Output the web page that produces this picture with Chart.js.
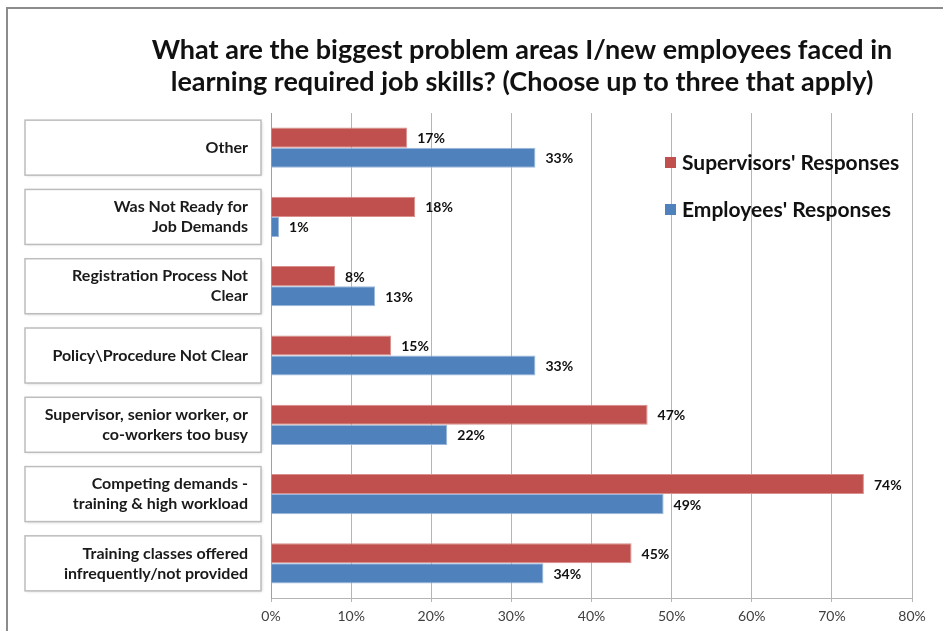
<!DOCTYPE html>
<html>
<head>
<meta charset="utf-8">
<title>Problem areas in learning job skills</title>
<script src="https://cdn.jsdelivr.net/npm/chart.js@4.4.1/dist/chart.umd.min.js"></script>
<style>
  body { margin: 0; background: #fff; }
  #frame { position: absolute; left: 6px; top: 7px; width: 1000px; height: 700px;
           border-left: 2px solid #8c8c8c; border-top: 2px solid #8c8c8c; }
  #chart { position: absolute; left: 0; top: 0; }
</style>
</head>
<body>
<div id="frame"></div>
<canvas id="chart" width="943" height="631"></canvas>
<script>
const titleLines = [
    "What are the biggest problem areas I/new employees faced in",
    "learning required job skills? (Choose up to three that apply)"
];

const categories = [
    ["Other"],
    ["Was Not Ready for", "Job Demands"],
    ["Registration Process Not", "Clear"],
    ["Policy\\Procedure Not Clear"],
    ["Supervisor, senior worker, or", "co-workers too busy"],
    ["Competing demands -", "training & high workload"],
    ["Training classes offered", "infrequently/not provided"]
];

const supervisors = [17, 18, 8, 15, 47, 74, 45];
const employees = [33, 1, 13, 33, 22, 49, 34];

const xTicks = [0, 10, 20, 30, 40, 50, 60, 70, 80];

const RED = "#C0504D";
const BLUE = "#4F81BD";
const FONT = "Lato, 'Open Sans', sans-serif";

// white boxes with a soft shadow behind each category label
const labelBoxes = {
    id: "labelBoxes",
    beforeDraw(chart) {
        const ctx = chart.ctx;
        const y = chart.scales.y;
        ctx.save();
        categories.forEach((_, i) => {
            const cy = y.getPixelForValue(i);
            const h = 55;
            ctx.shadowColor = "rgba(0,0,0,0.18)";
            ctx.shadowBlur = 3;
            ctx.shadowOffsetX = 1;
            ctx.shadowOffsetY = 1;
            ctx.fillStyle = "#fff";
            ctx.fillRect(25, cy - h / 2, 236, h);
            ctx.shadowColor = "transparent";
            ctx.strokeStyle = "#bdbdbd";
            ctx.lineWidth = 1.5;
            ctx.strokeRect(25, cy - h / 2, 236, h);
        });
        ctx.restore();
    }
};

// title, value labels and legend
const overlay = {
    id: "overlay",
    afterDraw(chart) {
        const ctx = chart.ctx;
        ctx.save();
        ctx.fillStyle = "#111";
        ctx.textAlign = "center";
        ctx.textBaseline = "middle";
        ctx.font = "bold 27px " + FONT;
        ctx.fillText(titleLines[0], 522, 50);
        ctx.fillText(titleLines[1], 522, 82);

        ctx.font = "bold 14px " + FONT;
        ctx.textAlign = "left";
        chart.data.datasets.forEach((ds, di) => {
            chart.getDatasetMeta(di).data.forEach((bar, i) => {
                ctx.fillText(ds.data[i] + "%", bar.x + 10, bar.y + 1);
            });
        });

        ctx.font = "bold 21px " + FONT;
        chart.data.datasets.forEach((ds, di) => {
            const cy = 162 + di * 47;
            ctx.fillStyle = ds.backgroundColor;
            ctx.fillRect(665, cy - 5, 11, 11);
            ctx.fillStyle = "#111";
            ctx.fillText(ds.label, 682, cy + 1);
        });
        ctx.restore();
    }
};

new Chart(document.getElementById("chart"), {
    type: "bar",
    data: {
        labels: categories,
        datasets: [
            { label: "Supervisors' Responses", data: supervisors, backgroundColor: RED,
              borderColor: "#d88f8d", borderWidth: 1 },
            { label: "Employees' Responses", data: employees, backgroundColor: BLUE,
              borderColor: "#9bb8dc", borderWidth: 1 }
        ]
    },
    options: {
        indexAxis: "y",
        responsive: false,
        animation: false,
        categoryPercentage: 0.58,
        barPercentage: 1,
        layout: { padding: { top: 113, right: 31, bottom: 0, left: 0 } },
        plugins: {
            legend: { display: false },
            title: { display: false },
            tooltip: { enabled: false }
        },
        scales: {
            x: {
                min: 0,
                max: 80,
                afterBuildTicks(scale) {
                    scale.ticks = xTicks.map(v => ({ value: v }));
                },
                afterFit(scale) { scale.height = 33; },
                grid: { color: "#b5b5b5", lineWidth: 1, tickLength: 4 },
                border: { color: "#b5b5b5" },
                ticks: {
                    padding: 6,
                    color: "#404040",
                    font: { family: FONT, size: 14 },
                    callback: v => v + "%"
                }
            },
            y: {
                afterFit(scale) { scale.width = 271; },
                grid: { display: false, drawTicks: false },
                border: { color: "#a0a0a0" },
                ticks: {
                    padding: 23,
                    color: "#1a1a1a",
                    font: { family: FONT, size: 16, weight: "bold", lineHeight: 1.25 }
                }
            }
        }
    },
    plugins: [labelBoxes, overlay]
});
</script>
</body>
</html>
